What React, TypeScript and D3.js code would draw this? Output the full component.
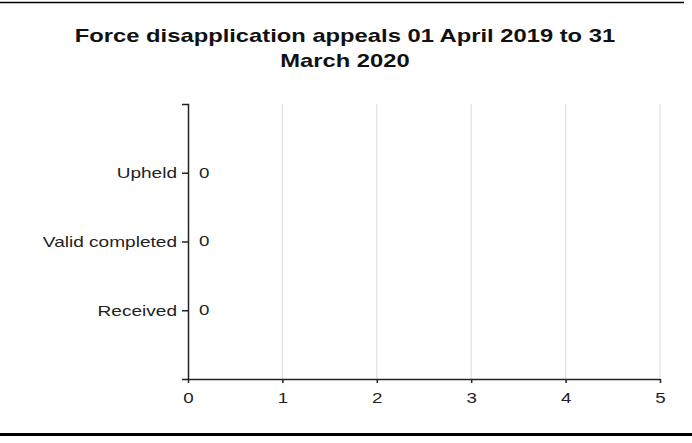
import { useEffect, useRef } from "react";
import * as d3 from "d3";

const categories: string[] = ["Upheld", "Valid completed", "Received"];
const values: number[] = [0, 0, 0];
const xTicks: number[] = [0, 1, 2, 3, 4, 5];
const titleLines: string[] = [
  "Force disapplication appeals 01 April 2019 to 31",
  "March 2020",
];

// the reference text is a little wider than plain Arial, so stretch it sideways
const stretch = (sel: d3.Selection<any, any, any, any>, k = 1.25) => {
  sel.each(function () {
    const el = this as SVGTextContentElement;
    const len = el.getComputedTextLength();
    if (len > 0) {
      el.setAttribute("textLength", String(len * k));
      el.setAttribute("lengthAdjust", "spacingAndGlyphs");
    }
  });
};

export default function App() {
  const svgRef = useRef<SVGSVGElement | null>(null);

  useEffect(() => {
    if (!svgRef.current) return;
    const width = 692;
    const height = 443;
    const svg = d3.select(svgRef.current);
    svg.selectAll("*").remove();
    svg.attr("width", width).attr("height", height);

    const font = "Liberation Sans, Arial, sans-serif";
    const fs = 15;

    // frame lines
    svg.append("line")
      .attr("x1", 0).attr("x2", 684).attr("y1", 2.5).attr("y2", 2.5)
      .attr("stroke", "#000").attr("stroke-width", 1.5);
    svg.append("line")
      .attr("x1", 0).attr("x2", width).attr("y1", 434.5).attr("y2", 434.5)
      .attr("stroke", "#000").attr("stroke-width", 3);

    // title
    const title = svg.append("g")
      .selectAll("text")
      .data(titleLines)
      .enter()
      .append("text")
      .attr("x", 345)
      .attr("y", (d, i) => 42 + i * 25)
      .attr("font-family", font)
      .attr("font-weight", "bold")
      .attr("font-size", 19)
      .attr("text-anchor", "middle")
      .attr("fill", "#111")
      .text((d) => d);
    stretch(title);

    const left = 188;
    const right = 660;
    const top = 104;
    const bottom = 379;

    const x = d3.scaleLinear().domain([0, 5]).range([left, right]);
    const y = d3.scalePoint<string>().domain(categories).range([top, bottom]).padding(1);

    // gridlines
    svg.append("g")
      .selectAll("line")
      .data(xTicks.slice(1))
      .enter()
      .append("line")
      .attr("x1", (d) => x(d)).attr("x2", (d) => x(d))
      .attr("y1", top).attr("y2", bottom)
      .attr("stroke", "#d9d9d9").attr("stroke-width", 1);

    // x axis
    const gx = svg.append("g")
      .attr("transform", `translate(0,${bottom})`)
      .call(d3.axisBottom(x).tickValues(xTicks).tickFormat(d3.format("d")).tickSize(4).tickSizeOuter(0).tickPadding(9));
    gx.selectAll("text").attr("font-family", font).attr("font-size", fs).attr("fill", "#222");
    gx.selectAll("path, line").attr("stroke", "#222").attr("stroke-width", 1.5);
    stretch(gx.selectAll("text"));

    // y axis
    const gy = svg.append("g")
      .attr("transform", `translate(${left},0)`)
      .call(d3.axisLeft(y).tickSize(6).tickSizeOuter(6).tickPadding(5));
    gy.selectAll("text").attr("font-family", font).attr("font-size", fs).attr("fill", "#222").attr("dy", "0.33em");
    gy.selectAll("path, line").attr("stroke", "#222").attr("stroke-width", 1.5);
    stretch(gy.selectAll("text"), 1.27);

    // value labels (bars of zero length)
    const vals = svg.append("g")
      .selectAll("text")
      .data(values)
      .enter()
      .append("text")
      .attr("x", (d) => x(d) + 11)
      .attr("y", (d, i) => y(categories[i]) ?? 0)
      .attr("dy", "0.33em")
      .attr("font-family", font)
      .attr("font-size", fs)
      .attr("fill", "#222")
      .text((d) => d);
    stretch(vals);
  }, []);

  return (
    <div style={{ position: "absolute", left: 0, top: 0 }}>
      <svg ref={svgRef}></svg>
    </div>
  );
}
